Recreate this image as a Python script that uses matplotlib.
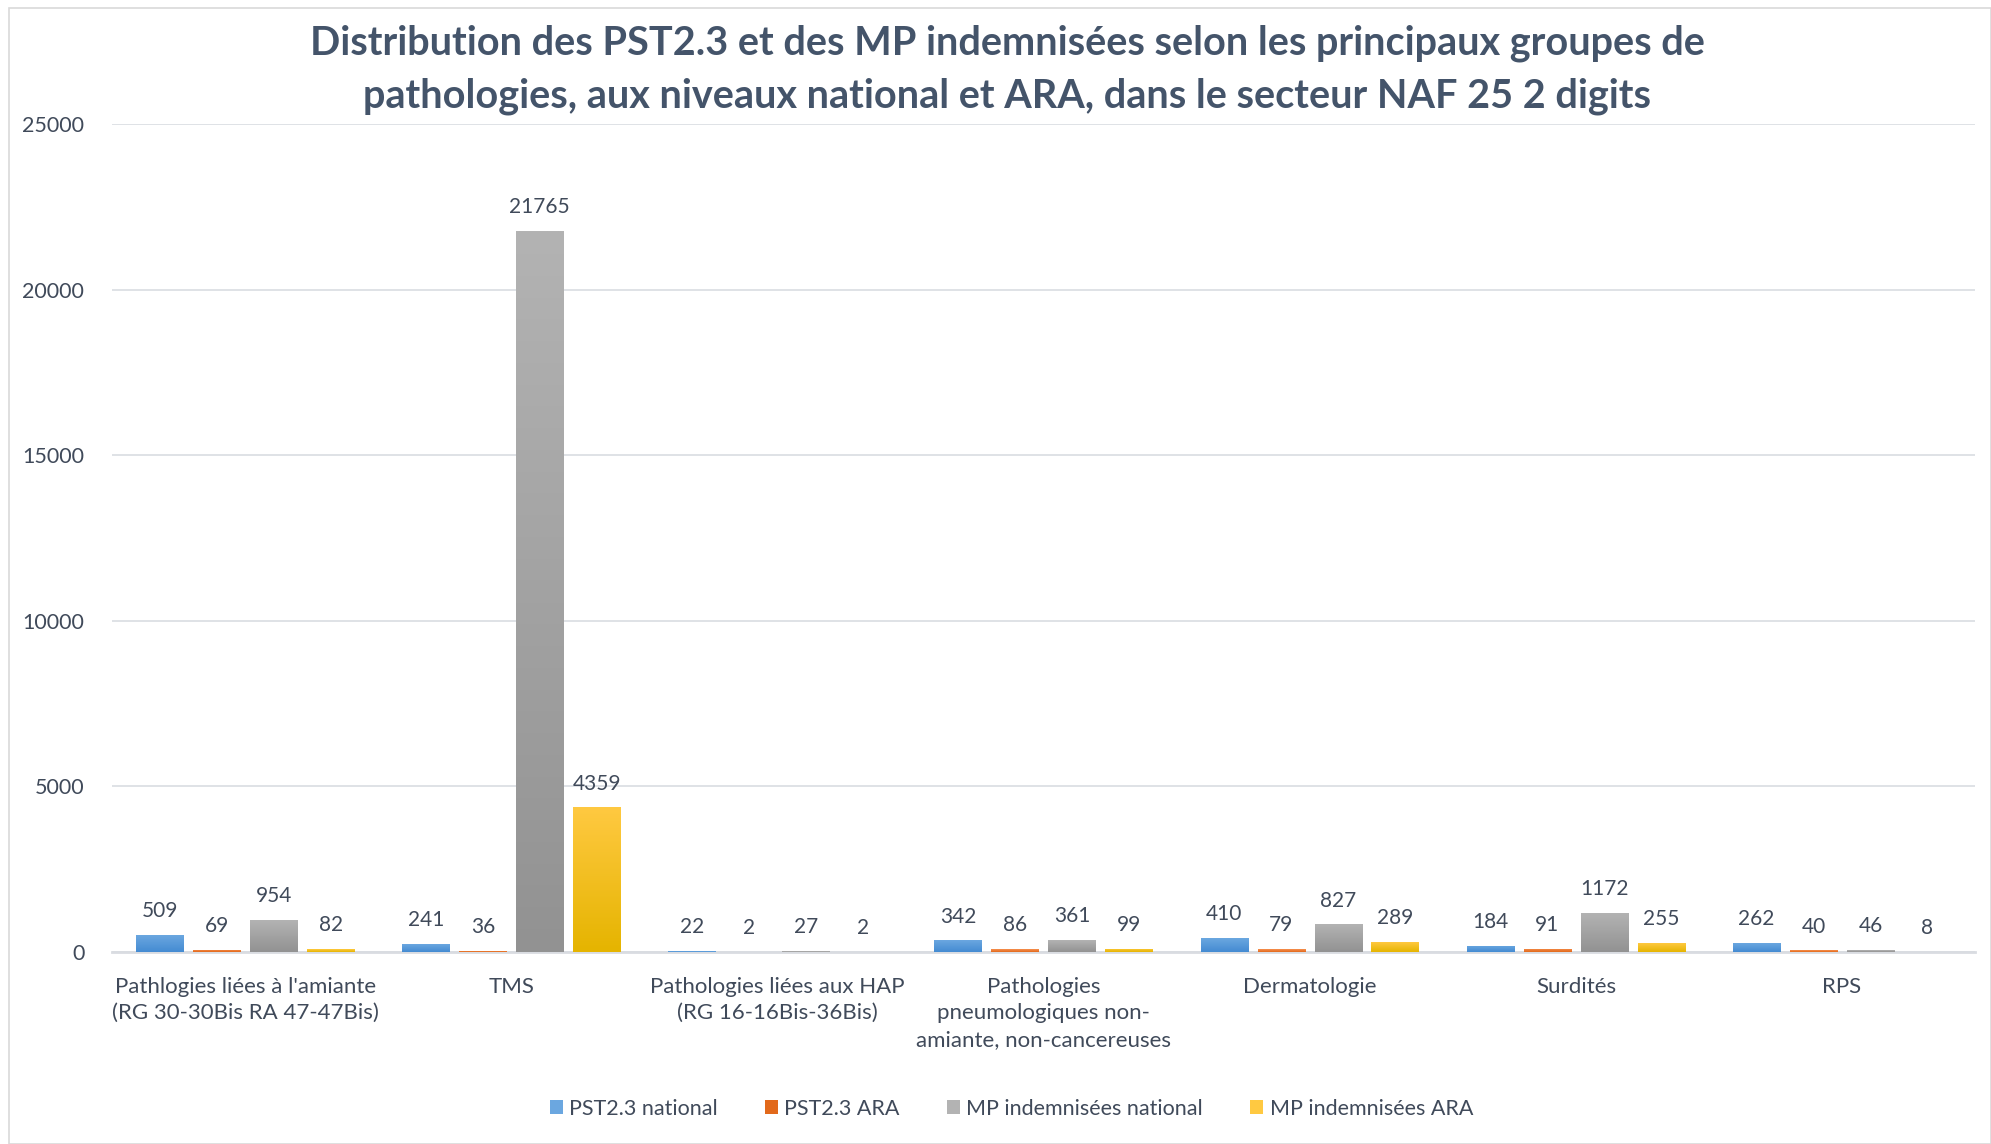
import numpy as np
import matplotlib.pyplot as plt
from matplotlib.colors import LinearSegmentedColormap
from matplotlib.patches import Rectangle

plt.rcParams['font.family'] = ['Lato', 'DejaVu Sans']

categories = [
    "Pathlogies liées à l'amiante\n(RG 30-30Bis RA 47-47Bis)",
    "TMS",
    "Pathologies liées aux HAP\n(RG 16-16Bis-36Bis)",
    "Pathologies\npneumologiques non-\namiante, non-cancereuses",
    "Dermatologie",
    "Surdités",
    "RPS",
]
series_names = ["PST2.3 national", "PST2.3 ARA", "MP indemnisées national", "MP indemnisées ARA"]
pst_national = [509, 241, 22, 342, 410, 184, 262]
pst_ara = [69, 36, 2, 86, 79, 91, 40]
mp_national = [954, 21765, 27, 361, 827, 1172, 46]
mp_ara = [82, 4359, 2, 99, 289, 255, 8]

# (top colour, bottom colour) for the Excel-style gradient fill
grads = [("#6ba7e0", "#448bd2"), ("#f6904f", "#e2691b"),
         ("#b3b3b3", "#929292"), ("#ffc941", "#e5b400")]
text_col = "#44546a"
label_col = "#404a5a"

fig = plt.figure(figsize=(19.91, 11.44), dpi=100)
ax = fig.add_axes([0.0563, 0.168, 0.9357, 0.7236])

x = np.arange(len(categories))
width = 0.178
step = 0.214
all_series = [pst_national, pst_ara, mp_national, mp_ara]

for i, (vals, name, (c_top, c_bot)) in enumerate(zip(all_series, series_names, grads)):
    pos = x + (i - 1.5) * step
    mid = c_top if i != 1 else c_bot
    bars = ax.bar(pos, vals, width, color=mid, label=name, zorder=2)
    cmap = LinearSegmentedColormap.from_list("g%d" % i, [c_bot, c_top])
    grad = np.linspace(0, 1, 256).reshape(-1, 1)
    for b, v in zip(bars, vals):
        bx, bw = b.get_x(), b.get_width()
        im = ax.imshow(grad, cmap=cmap, origin="lower", aspect="auto",
                       extent=[bx, bx + bw, 0, max(v, 1)], zorder=3)
        im.set_clip_path(b)
        ax.annotate(str(v), (b.get_x() + bw / 2, v), xytext=(0, 10),
                    textcoords="offset points", ha="center", va="bottom",
                    fontsize=15, color=label_col)

ax.set_xlim(-0.5, len(categories) - 0.5)
ax.set_ylim(0, 25000)
ax.set_yticks(range(0, 25001, 5000))
ax.set_xticks(x)
ax.set_xticklabels(categories, fontsize=16, color=label_col, linespacing=1.4)
ax.tick_params(axis="both", length=0, colors=label_col)
ax.tick_params(axis="x", pad=18, labelsize=16)
ax.tick_params(axis="y", pad=20, labelsize=15.5)
for lab in ax.get_yticklabels():
    lab.set_color(label_col)

ax.grid(axis="y", color="#dcdfe4", linewidth=1.3, zorder=0)
for s in ["top", "right", "left"]:
    ax.spines[s].set_visible(False)
ax.spines["bottom"].set_color("#d9dce1")
ax.spines["bottom"].set_linewidth(2)

fig.text(0.506, 0.939,
         "Distribution des PST2.3 et des MP indemnisées selon les principaux groupes de\n"
         "pathologies, aux niveaux national et ARA, dans le secteur NAF 25 2 digits",
         ha="center", va="center", fontsize=28.5, fontweight="bold", color=text_col,
         linespacing=1.5)

leg = fig.legend(loc="center", bbox_to_anchor=(0.508, 0.031), ncol=4, frameon=False,
                 fontsize=15.5, handlelength=0.6, handleheight=0.6, handletextpad=0.3,
                 columnspacing=2.2)
for t in leg.get_texts():
    t.set_color(label_col)

fig.patches.append(Rectangle((0.0045, 0.0), 0.9955, 0.993, transform=fig.transFigure,
                             fill=False, edgecolor="#d9d9d9", linewidth=1.2))

fig.savefig("out.png", dpi=100)
